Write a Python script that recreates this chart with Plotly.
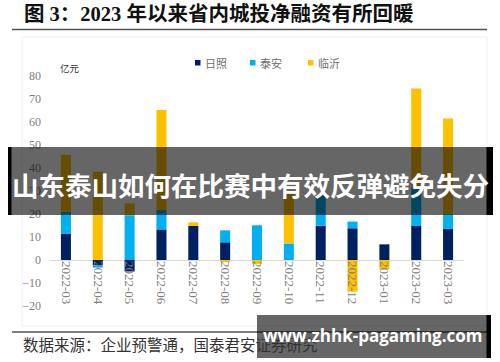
import plotly.graph_objects as go

# ---- data (亿元) ----
months = ["2022-03", "2022-04", "2022-05", "2022-06", "2022-07", "2022-08", "2022-09",
          "2022-10", "2022-11", "2022-12", "2023-01", "2023-02", "2023-03"]
series_names = ["日照", "泰安", "临沂"]
rizhao = [11.5, -2.3, -5.0, 13.3, 14.8, 7.7, 0.0, 0.0, 14.9, 13.8, 6.8, 14.8, 13.5]
taian = [9.5, -1.0, 19.5, 8.4, 0.0, 5.2, 15.1, 7.2, 13.4, 2.9, 0.0, 17.1, 6.4]
linyi = [24.7, 38.4, 5.1, 43.5, 1.6, -0.5, -1.7, 22.1, 0.0, -13.8, -4.0, 42.7, 41.6]
colors = ["#002060", "#00B0F0", "#FFC000"]
y_ticks = [-20, -10, 0, 10, 20, 30, 40, 50, 60, 70, 80]

title_text = "图 3：2023 年以来省内城投净融资有所回暖"
source_text = "数据来源：企业预警通，国泰君安证券研究"
unit_text = "亿元"
banner_text = "山东泰山如何在比赛中有效反弹避免失分"
watermark_text = "www.zhhk-pagaming.com"

W, H = 500, 362
L, R, T, B = 50, 464, 76, 306


def px(x):
    return (x - L) / (R - L)


def py(y):
    return (B - y) / (B - T)


fig = go.Figure()
for name, vals, col in zip(series_names, [rizhao, taian, linyi], colors):
    fig.add_trace(go.Bar(x=months, y=vals, name=name, marker=dict(color=col, line=dict(width=0)),
                         showlegend=False))

serif_cjk = "Liberation Serif, Noto Sans CJK SC"
shapes = []
annotations = []

# faint chart frame
shapes.append(dict(type="rect", xref="paper", yref="paper", x0=px(22), x1=px(487), y0=py(37), y1=py(326),
                   line=dict(color="#f0f0f0", width=1), fillcolor="rgba(0,0,0,0)", layer="below"))
# header & footer rules
shapes.append(dict(type="line", xref="paper", yref="paper", x0=px(12), x1=px(487), y0=py(29.5), y1=py(29.5),
                   line=dict(color="#555555", width=1.5)))
shapes.append(dict(type="line", xref="paper", yref="paper", x0=px(12), x1=px(487), y0=py(332), y1=py(332),
                   line=dict(color="#555555", width=1.5)))

# legend (manual)
leg_x = [195, 250, 308]
for name, col, x0 in zip(series_names, colors, leg_x):
    shapes.append(dict(type="rect", xref="paper", yref="paper", x0=px(x0), x1=px(x0 + 5.5),
                       y0=py(65.5), y1=py(60), fillcolor=col, line=dict(width=0)))
    annotations.append(dict(text=name, xref="paper", yref="paper", x=px(x0 + 8), y=py(62.5),
                            xanchor="left", yanchor="middle", showarrow=False,
                            font=dict(family="Noto Sans CJK SC", size=11, color="#6e6e6e")))

# unit
annotations.append(dict(text=unit_text, xref="paper", yref="paper", x=px(58), y=py(67.5),
                        xanchor="left", yanchor="middle", showarrow=False,
                        font=dict(family="Noto Sans CJK SC", size=9.5, color="#333333")))
# title
annotations.append(dict(text="<b>" + title_text + "</b>", xref="paper", yref="paper", x=px(22), y=py(14),
                        xanchor="left", yanchor="middle", showarrow=False,
                        font=dict(family=serif_cjk, size=20.5, color="#111111")))
# source
annotations.append(dict(text=source_text, xref="paper", yref="paper", x=px(21), y=py(345),
                        xanchor="left", yanchor="middle", showarrow=False,
                        font=dict(family=serif_cjk, size=15.5, color="#333333")))

# overlay banner
shapes.append(dict(type="rect", xref="paper", yref="paper", x0=px(8), x1=px(493), y0=py(215), y1=py(147),
                   fillcolor="rgba(0,0,0,0.6)", line=dict(width=0), layer="above"))
shapes.append(dict(type="rect", xref="paper", yref="paper", x0=px(8), x1=px(11.5), y0=py(215), y1=py(147),
                   fillcolor="#000000", line=dict(width=0), layer="above"))
shapes.append(dict(type="rect", xref="paper", yref="paper", x0=px(486.5), x1=px(493), y0=py(215), y1=py(147),
                   fillcolor="#000000", line=dict(width=0), layer="above"))
annotations.append(dict(text="<b>" + banner_text + "</b>", xref="paper", yref="paper", x=px(250.5), y=py(184),
                        xanchor="center", yanchor="middle", showarrow=False,
                        font=dict(family="Noto Sans CJK SC", size=26.5, color="#ffffff")))

# watermark box
shapes.append(dict(type="rect", xref="paper", yref="paper", x0=px(257), x1=px(487), y0=py(358), y1=py(315),
                   fillcolor="rgba(0,0,0,0.6)", line=dict(width=0), layer="above"))
shapes.append(dict(type="rect", xref="paper", yref="paper", x0=px(486.5), x1=px(491), y0=py(358), y1=py(315),
                   fillcolor="#000000", line=dict(width=0), layer="above"))
annotations.append(dict(text="<b>" + watermark_text + "</b>", xref="paper", yref="paper", x=px(373), y=py(335),
                        xanchor="center", yanchor="middle", showarrow=False,
                        font=dict(family="Open Sans, DejaVu Sans", size=17, color="#ffffff")))

fig.update_layout(
    width=W, height=H,
    margin=dict(l=L, r=W - R, t=T, b=H - B, pad=0),
    paper_bgcolor="#ffffff", plot_bgcolor="#ffffff",
    barmode="relative", bargap=0.685,
    showlegend=False,
    shapes=shapes, annotations=annotations,
    xaxis=dict(type="category", anchor="free", position=0.2, tickangle=90, showline=False,
               showgrid=False, zeroline=False, ticks="", automargin=False,
               tickfont=dict(family="Liberation Serif", size=13, color="#7f7f7f")),
    yaxis=dict(range=[-20, 80], tickvals=y_ticks, showgrid=False, zeroline=True,
               zerolinecolor="#d9d9d9", zerolinewidth=1, showline=False, ticks="",
               automargin=False, ticklabelstandoff=8,
               tickfont=dict(family="Liberation Serif", size=12, color="#7f7f7f")),
)

fig.write_html("out.html", config={"displayModeBar": False},
               post_script="document.body.style.margin='0';document.body.style.overflow='hidden';")
